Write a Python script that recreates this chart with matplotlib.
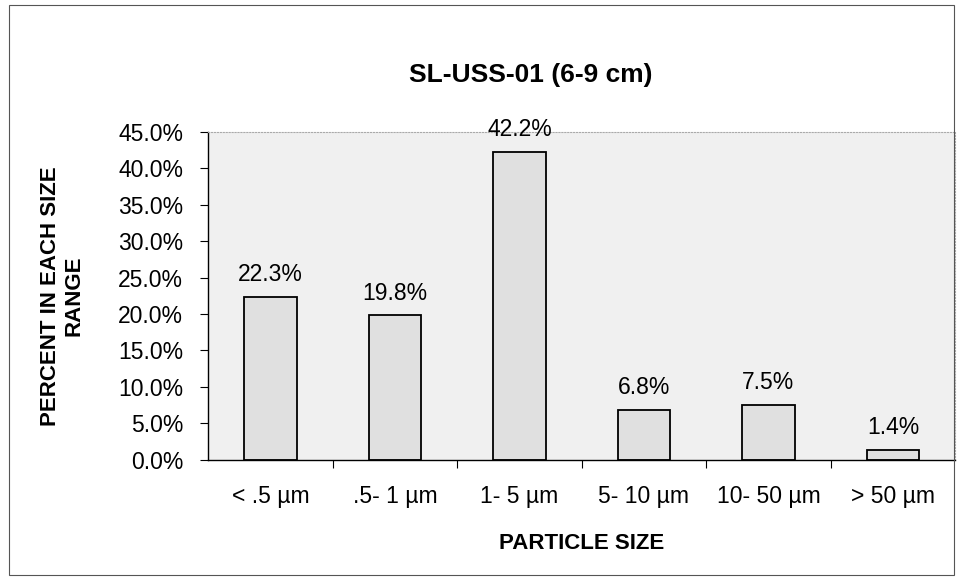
import matplotlib
matplotlib.use("Agg")
import matplotlib.pyplot as plt
from matplotlib.patches import Rectangle

plt.rcParams['font.family'] = ['Liberation Sans', 'DejaVu Sans']

# data
categories = ['< .5 µm', '.5- 1 µm', '1- 5 µm', '5- 10 µm', '10- 50 µm', '> 50 µm']
percents = [22.3, 19.8, 42.2, 6.8, 7.5, 1.4]
yticks = [0, 5, 10, 15, 20, 25, 30, 35, 40, 45]

fig = plt.figure(figsize=(9.6, 5.88), dpi=100)
fig.patches.append(Rectangle((0.009, 0.022), 0.985, 0.97, transform=fig.transFigure,
                             fill=False, edgecolor='#555555', linewidth=0.8))

ax = fig.add_axes([0.217, 0.218, 0.778, 0.558])
ax.set_facecolor('#f0f0f0')

x = list(range(len(categories)))
bars = ax.bar(x, percents, width=0.42, color='#e0e0e0', edgecolor='black', linewidth=1.3)

for xi, v in zip(x, percents):
    ax.text(xi, v + 1.5, f'{v:.1f}%', ha='center', va='bottom', fontsize=16.5, clip_on=False)

ax.set_xlim(-0.5, len(categories) - 0.5)
ax.set_ylim(0, 45)
ax.set_yticks(yticks)
ax.set_yticklabels([f'{t:.1f}%' for t in yticks], fontsize=16.5)

# x ticks sit between categories, labels centred under bars
ax.set_xticks([i + 0.5 for i in x[:-1]])
ax.set_xticklabels([])
ax.set_xticks(x, minor=True)
ax.set_xticklabels(categories, minor=True, fontsize=16.5)
ax.tick_params(axis='x', which='minor', length=0, pad=18)
ax.tick_params(axis='x', which='major', length=6, direction='out')
ax.tick_params(axis='y', length=6, direction='out', pad=12)

for side in ['top', 'right']:
    ax.spines[side].set_color('#aaaaaa')
    ax.spines[side].set_linestyle(':')
ax.spines['left'].set_linewidth(1.0)
ax.spines['bottom'].set_linewidth(1.0)

ax.set_xlabel('PARTICLE SIZE', fontsize=16, fontweight='bold', labelpad=18)
ax.set_ylabel('PERCENT IN EACH SIZE\nRANGE', fontsize=16, fontweight='bold', labelpad=24)
fig.text(0.553, 0.872, 'SL-USS-01 (6-9 cm)', ha='center', va='center',
         fontsize=19, fontweight='bold')

fig.savefig('out.png', dpi=100)
